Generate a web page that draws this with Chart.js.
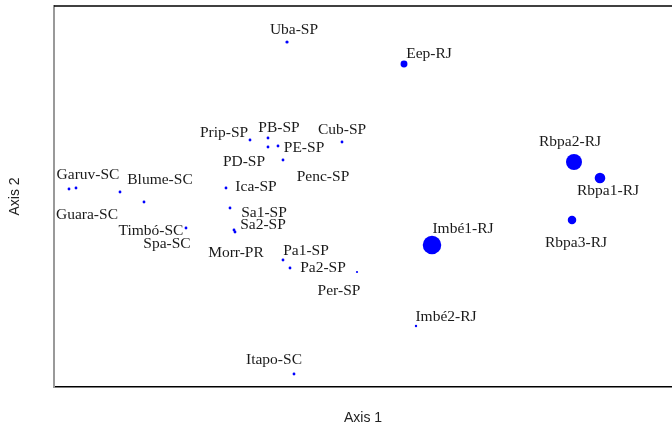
<!DOCTYPE html>
<html lang="en">

<head>
    <meta charset="UTF-8">
    <title>Ordination</title>
    <script src="https://cdn.jsdelivr.net/npm/chart.js"></script>
    <style>
        html, body { margin: 0; padding: 0; background: #fff; overflow: hidden; }
    </style>
</head>

<body>
    <canvas id="myChart" width="672" height="432"></canvas>
    <script>
        // site names and scores on the two ordination axes
        const sites = ['Uba-SP', 'Eep-RJ', 'Prip-SP', 'PB-SP', 'PD-SP', 'PE-SP', 'Penc-SP', 'Cub-SP',
            'Rbpa2-RJ', 'Rbpa1-RJ', 'Garuv-SC', 'Guara-SC', 'Blume-SC', 'Timbó-SC', 'Spa-SC',
            'Ica-SP', 'Sa1-SP', 'Sa2-SP', 'Morr-PR', 'Pa1-SP', 'Pa2-SP', 'Per-SP',
            'Imbé1-RJ', 'Rbpa3-RJ', 'Imbé2-RJ', 'Itapo-SC'];
        const axis1 = [-0.065, 0.52, -0.25, -0.16, -0.16, -0.11, -0.085, 0.21,
            1.37, 1.50, -1.155, -1.12, -0.90, -0.78, -0.57,
            -0.37, -0.35, -0.33, -0.325, -0.085, -0.05, 0.285,
            0.66, 1.36, 0.58, -0.03];
        const axis2 = [0.79, 0.68, 0.30, 0.31, 0.265, 0.27, 0.20, 0.29,
            0.19, 0.11, 0.055, 0.06, 0.04, -0.01, -0.14,
            0.06, -0.04, -0.15, -0.16, -0.30, -0.34, -0.36,
            -0.225, -0.10, -0.63, -0.87];
        // abundance used for the marker size
        const abund = [2.6, 12, 2, 2, 2, 2, 2, 2,
            64, 28, 2, 2, 2, 2, 2,
            2, 2, 2, 2, 2, 2, 1.2,
            86, 18, 1.4, 2];

        // label placement relative to the point (px)
        const labelOffsets = [[7, -14], [25, -12], [-26, -9], [11, -12], [-24, 13], [26, 0], [40, 15], [0, -14],
            [-4, -22], [8, 11], [19, -16], [11, 25], [40, -14], [7, 27], [-19, 14],
            [30, -3], [34, 3], [29, -7], [1, 19], [23, -11], [33, -2], [-18, 17],
            [31, -18], [4, 21], [30, -11], [-20, -16]];

        const points = sites.map((s, i) => ({ x: axis1[i], y: axis2[i] }));

        const labelPlugin = {
            id: 'siteLabels',
            afterDatasetsDraw(chart) {
                const ctx = chart.ctx;
                const meta = chart.getDatasetMeta(0);
                ctx.save();
                ctx.font = '15.5px "Liberation Serif", "Times New Roman", serif';
                ctx.fillStyle = '#1a1a1a';
                ctx.textAlign = 'center';
                ctx.textBaseline = 'middle';
                meta.data.forEach((pt, i) => {
                    const off = labelOffsets[i];
                    ctx.fillText(sites[i], pt.x + off[0], pt.y + off[1] + 1.5);
                });
                ctx.restore();
            }
        };

        // top edge of the box (R style frame, open on the right)
        const framePlugin = {
            id: 'frame',
            afterDraw(chart) {
                const ctx = chart.ctx;
                const a = chart.chartArea;
                ctx.save();
                ctx.strokeStyle = '#000';
                ctx.lineWidth = 1.5;
                ctx.beginPath();
                ctx.moveTo(a.left, a.top);
                ctx.lineTo(a.right, a.top);
                ctx.stroke();
                ctx.restore();
            }
        };

        new Chart(document.getElementById('myChart'), {
            type: 'scatter',
            data: {
                datasets: [{
                    label: 'sites',
                    data: points,
                    backgroundColor: '#0000ff',
                    borderWidth: 0,
                    pointRadius: (c) => Math.sqrt(abund[c.dataIndex]),
                    clip: false
                }]
            },
            plugins: [labelPlugin, framePlugin],
            options: {
                responsive: false,
                animation: false,
                events: [],
                layout: { autoPadding: false, padding: { top: 6, right: 0, left: 0, bottom: 0 } },
                plugins: {
                    legend: { display: false },
                    tooltip: { enabled: false }
                },
                scales: {
                    x: {
                        min: -1.23,
                        max: 1.86,
                        grid: { display: false, drawTicks: false },
                        ticks: { display: false },
                        border: { display: true, color: '#000', width: 1.5 },
                        title: {
                            display: true,
                            text: 'Axis 1',
                            color: '#222',
                            font: { family: '"Liberation Sans", Arial, sans-serif', size: 14 },
                            padding: { top: 22.6, bottom: 5.6 }
                        }
                    },
                    y: {
                        min: -0.935,
                        max: 0.97,
                        grid: { display: false, drawTicks: false },
                        ticks: { display: false },
                        border: { display: true, color: '#999', width: 2 },
                        title: {
                            display: true,
                            text: 'Axis 2',
                            color: '#222',
                            font: { family: '"Liberation Sans", Arial, sans-serif', size: 14 },
                            padding: { top: 6.6, bottom: 30.6 }
                        }
                    }
                }
            }
        });
    </script>
</body>

</html>
